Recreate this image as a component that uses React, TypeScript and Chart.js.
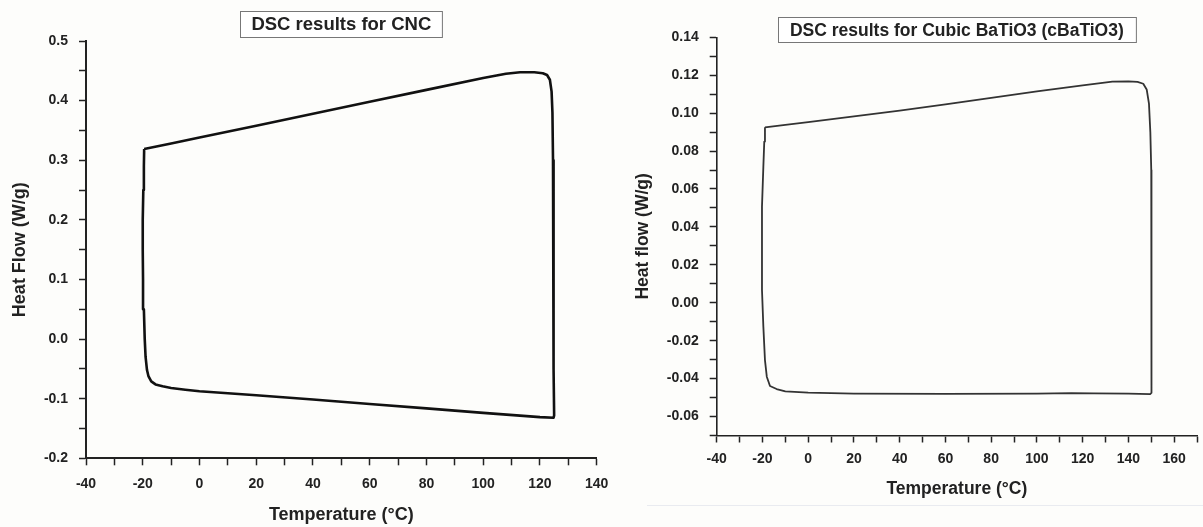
import React, { useEffect, useRef } from 'react';
import { Chart, registerables } from 'chart.js';

Chart.register(...registerables);

// ---- Data: DSC loop for CNC (temperature in °C, heat flow in W/g) ----
const cncTemp = [
  -19.5, -10, 0, 20, 40, 60, 80, 100, 108, 113, 118, 121, 122.5, 123.5, 124.1, 124.4, 124.6, 124.7, 124.8, 124.9, 125, 124.8,
  120, 100, 80, 60, 40, 20, 0, -5, -10, -13, -15.5, -17, -18, -18.5, -19.0, -19.3, -19.6, -19.9, -20.0, -20.0, -19.8, -19.6, -19.5,
];
const cncHeat = [
  0.319, 0.328, 0.338, 0.358, 0.378, 0.398, 0.418, 0.438, 0.445, 0.4475, 0.4475, 0.446, 0.443, 0.435, 0.415, 0.38, 0.3, 0.2, 0.05, -0.05, -0.128, -0.132,
  -0.131, -0.1238, -0.1163, -0.1088, -0.1013, -0.0943, -0.0876, -0.085, -0.082, -0.0793, -0.076, -0.071, -0.062, -0.052, -0.03, 0.0, 0.05, 0.1, 0.15, 0.2, 0.25, 0.29, 0.319,
];

// ---- Data: DSC loop for cubic BaTiO3 ----
const batTemp = [
  -18.9, -10, 0, 20, 40, 60, 80, 100, 120, 133, 140, 144, 146.5, 148, 149, 149.6, 150, 150.1, 150.1, 150.1, 149.5,
  140, 125, 115, 100, 60, 20, 0, -10, -13.8, -16.7, -18.1, -18.9, -19.6, -20.2, -20.2, -19.6, -19.2, -18.9,
];
const batHeat = [
  0.0925, 0.0938, 0.0953, 0.0983, 0.1013, 0.1046, 0.1081, 0.1115, 0.1147, 0.1166, 0.1168, 0.1165, 0.1155, 0.1125, 0.105, 0.09, 0.07, 0.02, -0.03, -0.0475, -0.0482,
  -0.0479, -0.0478, -0.0476, -0.0479, -0.048, -0.0479, -0.0474, -0.0467, -0.0455, -0.0439, -0.039, -0.0302, -0.0126, 0.0067, 0.0507, 0.0718, 0.085, 0.0925,
];

// ---- Titles / labels ----
const cncTitle = 'DSC results for CNC';
const batTitle = 'DSC results for Cubic BaTiO3 (cBaTiO3)';
const xAxisLabel = 'Temperature (°C)';
const cncYLabel = 'Heat Flow (W/g)';
const batYLabel = 'Heat flow (W/g)';

const FONT = '"Liberation Sans", Arial, Helvetica, sans-serif';

const titleBoxPlugin = {
  id: 'titleBox',
  afterDraw(chart: any, _args: any, opts: any) {
    if (!opts || !opts.text) return;
    const { ctx, chartArea } = chart;
    ctx.save();
    ctx.font = `bold ${opts.size}px ${FONT}`;
    const tw = ctx.measureText(opts.text).width;
    const cx = (chartArea.left + chartArea.right) / 2 + (opts.dx || 0);
    const bw = tw + opts.padX * 2;
    const bh = opts.height;
    const bx = Math.round(cx - bw / 2) + 0.5;
    const by = Math.round(opts.y - bh / 2) + 0.5;
    ctx.fillStyle = '#ffffff';
    ctx.fillRect(bx, by, bw, bh);
    ctx.strokeStyle = '#777';
    ctx.lineWidth = 1;
    ctx.strokeRect(bx, by, bw, bh);
    ctx.fillStyle = '#222';
    ctx.textAlign = 'center';
    ctx.textBaseline = 'middle';
    ctx.fillText(opts.text, cx, opts.y + 1);
    ctx.restore();
  },
};

type Props = {
  temps: number[];
  heats: number[];
  title: string;
  yLabel: string;
  xMin: number;
  xMax: number;
  yMin: number;
  yMax: number;
  yStep: number;
  yLabelEvery: number;
  yDecimals: number;
  left: number;
  width: number;
  yAxisWidth: number;
  xAxisHeight: number;
  padTop: number;
  padRight: number;
  lineColor: string;
  lineWidth: number;
  axisWidth: number;
  tickFont: number;
  axisFont: number;
  xTickPad: number;
  yTickPad: number;
  xTitlePad: number;
  yTitlePad: number;
  titleSize: number;
  titleY: number;
  titlePadX: number;
  titleH: number;
};

function DscChart(p: Props) {
  const ref = useRef<HTMLCanvasElement | null>(null);
  useEffect(() => {
    if (!ref.current) return;
    const pts = p.temps.map((t, i) => ({ x: t, y: p.heats[i] }));
    const chart = new Chart(ref.current, {
      type: 'scatter',
      data: {
        datasets: [
          {
            data: pts,
            showLine: true,
            borderColor: p.lineColor,
            borderWidth: p.lineWidth,
            pointRadius: 0,
            fill: false,
            tension: 0,
            borderJoinStyle: 'round',
            clip: false as any,
          } as any,
        ],
      },
      options: {
        animation: false,
        responsive: false,
        devicePixelRatio: 1,
        events: [],
        layout: { padding: { left: 0, top: p.padTop, right: p.padRight, bottom: 0 } },
        plugins: {
          legend: { display: false },
          tooltip: { enabled: false },
          title: { display: false },
          titleBox: { text: p.title, size: p.titleSize, y: p.titleY, padX: p.titlePadX, height: p.titleH },
        } as any,
        scales: {
          x: {
            type: 'linear',
            position: 'bottom',
            min: p.xMin,
            max: p.xMax,
            afterFit: (s: any) => {
              s.height = p.xAxisHeight;
              s.paddingLeft = 0;
              s.paddingRight = 0;
            },
            ticks: {
              stepSize: 10,
              autoSkip: false,
              maxRotation: 0,
              padding: p.xTickPad,
              color: '#222',
              font: { family: FONT, size: p.tickFont, weight: 'bold' },
              callback: (v: any) => {
                const n = Math.round(Number(v));
                return n % 20 === 0 ? String(n) : '';
              },
            },
            grid: { drawOnChartArea: false, drawTicks: true, tickLength: 7, tickColor: '#222', tickWidth: 1.5 },
            border: { display: true, color: '#222', width: p.axisWidth },
            title: {
              display: true,
              text: xAxisLabel,
              color: '#222',
              font: { family: FONT, size: p.axisFont, weight: 'bold' },
              padding: { top: 0, bottom: p.xTitlePad },
            },
          },
          y: {
            type: 'linear',
            position: 'left',
            min: p.yMin,
            max: p.yMax,
            afterFit: (s: any) => {
              s.width = p.yAxisWidth;
              s.paddingTop = 0;
              s.paddingBottom = 0;
            },
            ticks: {
              stepSize: p.yStep,
              autoSkip: false,
              padding: p.yTickPad,
              color: '#222',
              font: { family: FONT, size: p.tickFont, weight: 'bold' },
              callback: (v: any) => {
                const n = Math.round(Number(v) / p.yStep);
                if (n % p.yLabelEvery !== 0) return '';
                const val = n === 0 ? 0 : n * p.yStep;
                return val.toFixed(p.yDecimals);
              },
            },
            grid: { drawOnChartArea: false, drawTicks: true, tickLength: 7, tickColor: '#222', tickWidth: 1.5 },
            border: { display: true, color: '#222', width: p.axisWidth },
            title: {
              display: true,
              text: p.yLabel,
              color: '#222',
              font: { family: FONT, size: p.axisFont, weight: 'bold' },
              padding: { top: p.yTitlePad, bottom: 0 },
            },
          },
        },
      } as any,
      plugins: [titleBoxPlugin as any],
    });
    return () => chart.destroy();
  }, []);
  return (
    <canvas
      ref={ref}
      width={p.width}
      height={527}
      style={{ position: 'absolute', left: p.left, top: 0, width: p.width, height: 527 }}
    />
  );
}

export default function App() {
  return (
    <div style={{ position: 'absolute', left: 0, top: 0, width: 1203, height: 527, background: '#fdfdfb', overflow: 'hidden' }}>
      <div style={{ position: 'absolute', left: 647, top: 505, width: 556, height: 1, background: '#e9ebf0' }} />
      <DscChart
        temps={cncTemp}
        heats={cncHeat}
        title={cncTitle}
        yLabel={cncYLabel}
        xMin={-40}
        xMax={140}
        yMin={-0.2}
        yMax={0.5}
        yStep={0.05}
        yLabelEvery={2}
        yDecimals={1}
        left={0}
        width={620}
        yAxisWidth={86}
        xAxisHeight={68.7}
        padTop={41}
        padRight={23.3}
        lineColor="#111"
        lineWidth={2.6}
        axisWidth={2}
        tickFont={14}
        axisFont={18}
        xTickPad={10}
        yTickPad={11}
        xTitlePad={1.2}
        yTitlePad={9}
        titleSize={18.5}
        titleY={24}
        titlePadX={11}
        titleH={26}
      />
      <DscChart
        temps={batTemp}
        heats={batHeat}
        title={batTitle}
        yLabel={batYLabel}
        xMin={-40}
        xMax={170}
        yMin={-0.07}
        yMax={0.14}
        yStep={0.01}
        yLabelEvery={2}
        yDecimals={2}
        left={600}
        width={603}
        yAxisWidth={116.7}
        xAxisHeight={91.5}
        padTop={37.3}
        padRight={6}
        lineColor="#333"
        lineWidth={1.8}
        axisWidth={1.6}
        tickFont={14}
        axisFont={17.5}
        xTickPad={8}
        yTickPad={11}
        xTitlePad={27}
        yTitlePad={32.5}
        titleSize={17.5}
        titleY={29.7}
        titlePadX={12}
        titleH={25}
      />
    </div>
  );
}
